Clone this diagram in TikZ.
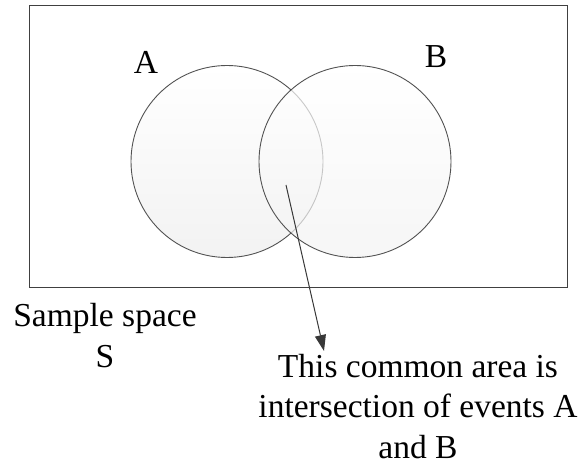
\documentclass[tikz,border=0pt]{standalone}
\usepackage{fontspec}
\setmainfont{Liberation Serif}
\usetikzlibrary{arrows.meta}
\tikzset{
  setbox/.style={draw=black!75, line width=1.3pt, inner sep=0pt, minimum width=538pt, minimum height=282pt},
  setcircle/.style={circle, draw=black!68, line width=0.9pt, minimum size=192pt, inner sep=0pt,
    top color=white, bottom color=black!5},
  lbl/.style={font=\fontsize{33.5}{40.5}\selectfont, inner sep=0pt, align=center},
  pointer/.style={draw=black!78, line width=1pt, -{Triangle[length=16pt,width=11pt,fill=black!78]}}
}
\begin{document}
\begin{tikzpicture}[x=1pt,y=-1pt]
\useasboundingbox (0,0) rectangle (582,465);
\node[setbox, anchor=north west] (S) at (29,5) {};
\node[setcircle] (A) at (227,161.5) {};
\node[setcircle, fill opacity=0.7] (B) at (355,161.5) {};
\node[lbl, anchor=base] (la) at (146,74) {A};
\node[lbl, anchor=base] (lb) at (436,68) {B};
\node[lbl, anchor=north, font=\fontsize{33.5}{41}\selectfont] (ls) at (105,303) {Sample space\\S};
\node[lbl, anchor=north] (lt) at (418,354) {This common area is\\intersection of events A\\and B};
\coordinate (p) at (286,185);
\coordinate (tip) at (324,351);
\draw[pointer] (p) -- (tip);
\end{tikzpicture}
\end{document}
